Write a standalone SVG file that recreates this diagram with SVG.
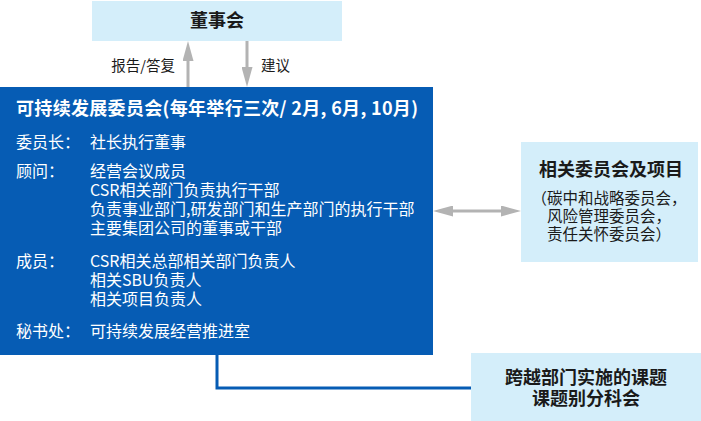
<svg xmlns="http://www.w3.org/2000/svg" width="701" height="421" viewBox="0 0 701 421">
<style>
.light{fill:#d4eefa}
.dark{fill:#065cb4}
.t{font-family:"Noto Sans CJK SC","Noto Sans",sans-serif}
.b{font-weight:700;font-size:18px;fill:#1a1a1a}
.w{fill:#ffffff;font-size:16px}
.wb{fill:#ffffff;font-weight:700;font-size:18px}
.k{fill:#1a1a1a;font-size:15.5px}
.lbl{fill:#1a1a1a;font-size:14.5px}
.ga{stroke:#b3b3b3;stroke-width:3;fill:none}
</style>
<defs>
<marker id="ah" viewBox="0 0 20 11" refX="10" refY="5.5" markerWidth="20" markerHeight="11" markerUnits="userSpaceOnUse" orient="auto-start-reverse">
<path d="M0,0 L20,5.5 L0,11 Z" fill="#b3b3b3"/>
</marker>
</defs>

<g id="connectors">
<line class="ga" x1="188" y1="87" x2="188" y2="51" marker-end="url(#ah)"/>
<line class="ga" x1="247" y1="41" x2="247" y2="77" marker-end="url(#ah)"/>
<line class="ga" x1="443" y1="211" x2="511" y2="211" marker-start="url(#ah)" marker-end="url(#ah)"/>
<polyline points="217,355 217,388 471,388" fill="none" stroke="#065cb4" stroke-width="3"/>
<text class="t lbl" x="175" y="71" text-anchor="end">报告/答复</text>
<text class="t lbl" x="261" y="71">建议</text>
</g>

<g id="node-board">
<rect class="light" x="92" y="1" width="250" height="40"/>
<text class="t b" x="217" y="27" text-anchor="middle">董事会</text>
</g>

<g id="node-committee">
<rect class="dark" x="0" y="87" width="433" height="268"/>
<text class="t wb" x="16" y="115" textLength="402">可持续发展委员会(每年举行三次/ 2月, 6月, 10月)</text>
<text class="t w" x="16" y="148">委员长：</text>
<text class="t w" x="90" y="148">社长执行董事</text>
<text class="t w" x="16" y="177">顾问：</text>
<text class="t w" x="90" y="177">经营会议成员</text>
<text class="t w" x="90" y="196">CSR相关部门负责执行干部</text>
<text class="t w" x="90" y="215">负责事业部门,研发部门和生产部门的执行干部</text>
<text class="t w" x="90" y="234">主要集团公司的董事或干部</text>
<text class="t w" x="16" y="267">成员：</text>
<text class="t w" x="90" y="267">CSR相关总部相关部门负责人</text>
<text class="t w" x="90" y="286">相关SBU负责人</text>
<text class="t w" x="90" y="305">相关项目负责人</text>
<text class="t w" x="16" y="337">秘书处：</text>
<text class="t w" x="90" y="337">可持续发展经营推进室</text>
</g>

<g id="node-related">
<rect class="light" x="521" y="142" width="177" height="120"/>
<text class="t b" x="611" y="176" text-anchor="middle">相关委员会及项目</text>
<text class="t k" x="609" y="204" text-anchor="middle">（碳中和战略委员会，</text>
<text class="t k" x="609" y="222" text-anchor="middle">风险管理委员会，</text>
<text class="t k" x="609" y="240" text-anchor="middle">责任关怀委员会）</text>
</g>

<g id="node-subcommittee">
<rect class="light" x="471" y="353" width="230" height="68"/>
<text class="t b" x="586" y="384" text-anchor="middle">跨越部门实施的课题</text>
<text class="t b" x="586" y="405" text-anchor="middle">课题别分科会</text>
</g>
</svg>
